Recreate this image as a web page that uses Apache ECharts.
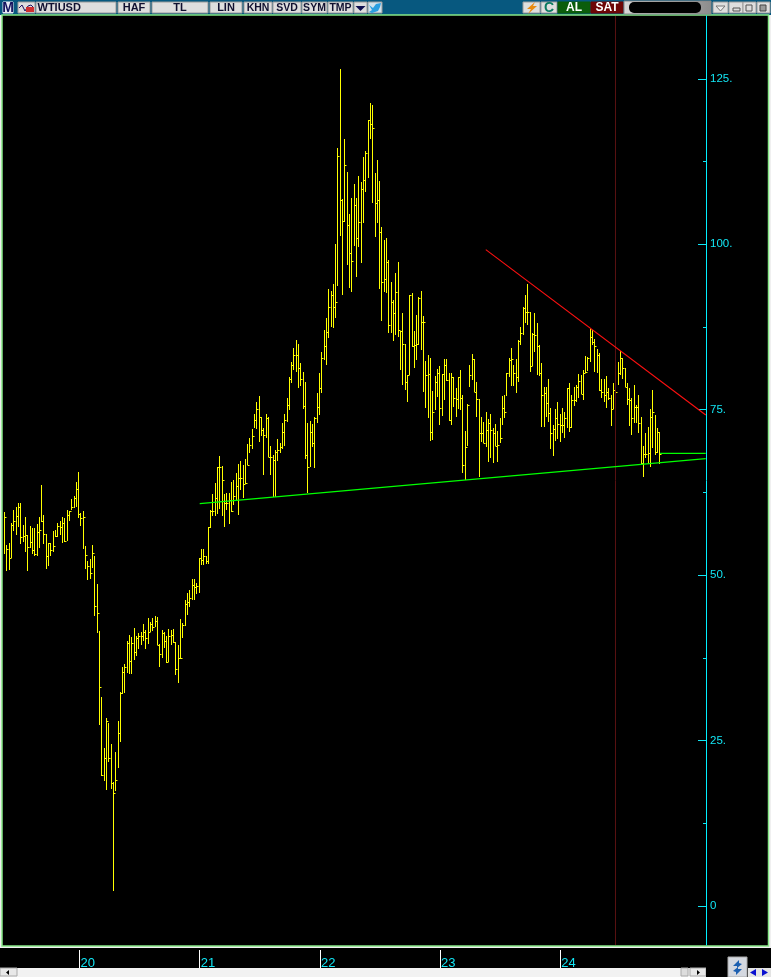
<!DOCTYPE html>
<html><head><meta charset="utf-8"><style>html,body{margin:0;padding:0;background:#f0f0f0;overflow:hidden}#c{width:771px;height:977px}</style>
<script src="https://cdn.jsdelivr.net/npm/echarts@6/dist/echarts.min.js"></script></head><body><div id="c"></div><script>
const symbol="WTIUSD";
const yearTicks=[20,21,22,23,24];
const priceTicks=[0,25,50,75,100,125];
const minorTicks=[12.5,37.5,62.5,87.5,112.5];
const firstBarYear=19.3727, barStepYear=0.01926;
const highs=[59.6,54.6,54.9,57.9,59.9,60.3,60.9,60.9,57.6,58.8,56.1,57.4,57.1,57.1,57.7,58.8,63.6,59.1,56.2,54.9,54.9,56.7,56.8,57.9,58.2,58.8,58.6,59.9,59.7,61.5,62.0,64.1,65.6,59.4,59.7,54.4,52.1,52.4,54.6,52.9,48.7,41.6,31.6,23.9,28.4,27.7,24.5,18.7,23.3,28.0,32.3,36.1,36.6,40.1,41.0,40.7,42.0,40.8,41.3,41.4,42.6,41.7,43.5,42.9,43.5,43.8,43.7,39.6,41.7,41.4,40.8,41.9,41.7,41.9,39.9,39.4,43.4,42.8,46.3,47.3,47.8,49.4,49.4,48.8,52.6,54.0,54.0,52.9,57.3,59.9,62.3,63.9,66.4,68.0,66.5,62.3,62.4,62.4,64.1,64.4,65.4,66.8,67.3,66.7,67.6,69.8,70.7,72.1,74.4,76.2,77.1,73.9,72.2,74.4,73.9,69.5,68.2,68.9,70.6,70.0,73.0,74.4,76.8,80.0,82.2,84.3,85.5,84.9,82.1,80.7,79.2,73.0,73.3,72.9,73.9,77.5,80.6,83.7,87.1,88.9,93.3,93.0,94.0,100.1,114.6,126.5,106.9,115.9,110.9,104.6,107.0,109.1,107.0,110.3,109.4,113.2,114.1,118.8,121.4,121.1,110.8,112.8,109.6,102.6,100.7,101.0,97.6,94.3,91.6,95.7,97.3,86.9,89.6,84.9,80.3,92.4,92.7,86.9,89.3,92.0,93.0,89.2,82.4,83.3,82.8,77.8,80.1,81.2,81.6,80.4,82.7,82.7,80.6,80.6,80.0,78.3,80.0,81.0,77.2,71.8,75.9,81.8,83.4,82.7,79.2,76.6,73.9,73.2,74.7,73.6,74.4,72.2,72.9,71.8,73.8,77.1,77.2,80.6,82.8,84.3,81.8,82.7,85.5,87.5,90.5,92.4,94.0,89.8,86.6,89.6,88.1,84.8,82.1,78.4,78.4,79.7,75.3,72.7,75.1,76.2,74.4,75.3,74.7,78.3,79.1,77.2,78.4,78.8,80.4,80.3,81.0,83.1,83.0,87.2,87.1,85.7,84.2,83.6,79.7,79.7,80.1,78.3,77.2,79.1,81.8,82.2,83.9,82.8,81.3,79.1,78.3,76.8,78.8,75.7,77.2,73.9,69.5,71.5,72.4,75.1,78.0,74.2,72.2,71.6];
const lows=[53.2,50.6,50.8,52.6,56.7,56.1,57.3,54.7,55.0,53.5,50.6,54.1,53.2,52.9,52.9,54.1,58.0,54.7,50.9,51.4,52.9,53.5,55.8,55.8,56.1,54.9,55.0,55.2,58.2,59.9,60.2,60.3,58.6,57.4,54.0,50.9,49.3,49.4,51.1,43.8,41.3,27.4,19.6,18.9,17.5,21.8,17.7,2.3,17.4,20.9,24.8,32.0,32.2,35.2,35.1,35.1,37.2,37.8,38.8,39.4,40.1,38.8,39.6,41.4,41.6,42.2,39.4,36.1,37.5,39.0,36.7,36.9,39.4,39.8,34.9,33.7,37.3,40.5,42.3,44.0,45.2,46.3,46.3,47.2,47.3,51.5,51.5,51.7,51.7,57.1,58.9,58.9,59.3,60.0,58.9,57.3,59.9,57.7,59.6,60.6,61.4,59.1,62.9,61.7,63.8,66.7,68.5,69.1,72.2,72.1,70.1,71.0,65.1,70.7,67.9,65.1,61.8,61.8,67.3,68.5,69.1,69.5,73.2,75.0,79.1,81.0,80.7,78.3,78.6,75.1,67.6,62.4,66.4,69.4,66.2,73.0,74.2,77.5,82.5,81.8,85.9,87.5,87.4,88.9,93.7,101.3,92.4,103.4,96.9,93.4,92.8,99.8,95.1,99.6,97.2,103.2,107.9,110.0,115.9,106.3,101.1,103.2,93.3,88.4,92.8,92.7,86.6,86.6,85.4,86.3,86.0,81.0,78.7,78.0,76.2,80.3,84.5,81.3,82.5,84.8,84.0,77.7,75.3,73.8,70.3,70.4,75.0,76.9,72.7,74.1,76.5,79.4,73.3,72.7,75.4,73.9,75.1,75.0,65.4,64.4,69.5,78.4,79.5,77.7,73.9,64.8,70.1,70.0,69.4,67.1,67.7,67.0,69.5,67.1,70.0,72.7,73.8,77.1,80.0,78.6,78.6,77.5,79.2,84.8,86.3,88.1,87.8,80.7,81.6,83.7,80.3,80.1,72.4,72.4,73.9,73.2,69.1,68.0,70.3,70.6,70.1,71.5,70.7,72.2,71.6,72.2,75.6,76.2,76.8,77.4,76.5,80.6,80.9,82.2,84.8,80.7,80.6,77.8,76.8,76.2,75.3,76.5,72.6,75.1,77.5,78.8,80.3,79.7,78.4,75.7,72.6,71.2,73.0,73.0,71.5,66.8,64.8,67.7,66.8,66.4,69.2,68.2,68.5,66.8];
const closes=[58.8,54.0,52.6,57.6,58.2,58.9,60.3,55.8,55.9,56.1,54.3,55.0,53.8,53.2,56.5,56.8,58.2,56.2,52.9,54.9,53.8,54.4,55.9,57.4,57.3,57.9,55.2,59.1,59.7,60.3,61.7,63.0,59.3,58.6,58.8,53.1,51.4,50.3,53.4,45.3,44.3,33.1,19.8,22.4,28.0,22.4,18.6,17.1,19.0,26.1,32.2,35.4,36.1,39.8,37.0,39.8,38.4,40.5,40.8,40.8,41.4,40.5,41.4,42.6,42.2,43.1,39.4,38.1,41.3,40.1,36.9,40.8,41.0,39.9,35.8,37.5,37.5,42.5,45.6,45.9,46.6,48.5,48.2,48.4,52.6,52.3,52.9,52.1,57.3,59.7,59.7,61.7,66.4,66.4,64.4,60.9,60.9,61.4,59.7,62.0,63.5,64.7,64.7,63.8,63.9,66.7,69.7,71.0,73.5,75.1,73.9,71.9,71.2,73.8,67.9,67.9,67.4,68.6,68.9,69.4,71.6,73.5,75.7,79.7,81.8,83.3,83.3,81.3,79.7,75.6,68.2,66.4,71.6,70.0,73.8,75.4,78.3,82.8,84.6,86.8,90.5,92.4,90.5,91.3,113.4,106.7,103.5,112.0,102.9,98.7,97.5,106.0,101.0,103.4,108.4,109.7,113.8,118.8,118.2,117.6,106.3,106.7,101.9,94.3,94.8,97.3,87.8,91.3,89.6,92.8,87.1,86.9,84.9,79.2,80.3,92.4,84.6,84.8,84.9,91.9,88.3,88.3,80.3,80.4,71.6,74.7,79.2,80.6,75.3,80.4,81.8,79.5,73.5,80.0,76.8,76.6,80.0,76.8,66.7,69.4,75.7,80.3,82.7,77.7,76.6,71.5,71.5,70.0,71.9,73.0,71.9,71.5,69.5,69.7,70.7,75.3,74.7,80.6,82.5,82.7,80.6,80.0,85.4,86.6,90.4,89.8,89.8,81.6,86.5,86.3,84.6,80.6,77.2,77.5,76.0,74.5,71.5,72.1,73.8,72.9,72.7,72.7,73.8,78.3,72.4,76.5,76.5,78.4,79.4,77.4,80.6,80.7,82.8,86.0,85.2,84.6,83.3,78.0,77.7,77.2,77.7,76.8,75.1,78.0,77.7,80.6,82.8,81.3,78.4,76.6,76.5,73.8,75.4,75.4,73.0,67.0,68.3,68.3,68.5,73.9,74.7,68.6,71.6,68.3];
const resistanceYears=[23.38,25.21], resistancePrices=[99.2,74.2];
const supportYears=[21.0,25.21], supportPrices=[60.8,67.6];
const stopYears=[24.83,25.21], stopPrices=[68.4,68.4];
const cursorYear=24.459;

const xMin=19.3636,xMax=25.2121,yMin=-5.9,yMax=134.5;
const bars=highs.map((h,i)=>[firstBarYear+i*barStepYear,h,lows[i],closes[i]]);
const CY='#12e6f5';
const btn=(x,w,t,o)=>{o=o||{};const a=[{type:'rect',shape:{x:x,y:2,width:w,height:11},style:{fill:o.fill||'#dedede',stroke:o.stroke||'#9a9a9a',lineWidth:1}}];
 if(t)a.push({type:'text',style:{text:t,x:o.left?x+1.5:x+w/2,y:8,fill:o.color||'#101030',font:'bold '+(o.size||11)+'px "Liberation Sans"',textAlign:o.left?'left':'center',textVerticalAlign:'middle'}});return a;};
const els=[
 {type:'rect',shape:{x:0,y:0,width:771,height:15},style:{fill:'#07587f'}},
 {type:'rect',shape:{x:2,y:15,width:766.5,height:931},style:{fill:'#000',stroke:'#86e886',lineWidth:1.5}},
 {type:'rect',shape:{x:0,y:948,width:771,height:20},style:{fill:'#000'}},
 {type:'rect',shape:{x:0,y:968,width:771,height:9},style:{fill:'#f2f2f2'}},
 ...btn(3,10,'',{fill:'#e8e8f4',stroke:'#e8e8f4'}),
 {type:'text',style:{text:'M',x:8,y:8,fill:'#12125e',font:'bold 14px "Liberation Sans"',textAlign:'center',textVerticalAlign:'middle'}},
 ...btn(18,17,''),
 {type:'polyline',shape:{points:[[19,8],[22,5],[25,11],[28,6],[31,5],[34,8]]},style:{stroke:'#201060',fill:null,lineWidth:1}},
 {type:'rect',shape:{x:26,y:7,width:8,height:5},style:{fill:'#d03030'}},
 ...btn(36,80,symbol,{left:true}),...btn(118,32,'HAF'),...btn(152,56,'TL'),...btn(210,32,'LIN'),
 ...btn(244,28,'KHN',{size:10.5}),...btn(273,28,'SVD',{size:10.5}),...btn(302,25,'SYM',{size:10.5}),...btn(328,25,'TMP',{size:10.5}),...btn(354,13,''),
 {type:'polygon',shape:{points:[[355.5,6],[365.5,6],[360.5,11]]},style:{fill:'#101050'}},
 ...btn(368,14,'',{fill:'#d0e2ec'}),
 {type:'polygon',shape:{points:[[369,5],[373,8],[376,4],[381,3],[380,7],[378,11],[372,13],[369,12],[372,10]]},style:{fill:'#2a9fe0'}},
 ...btn(523,17,''),{type:'polygon',shape:{points:[[535,2],[527,9],[531,9],[528,14],[537,6],[533,6]]},style:{fill:'#e88a10'}},
 ...btn(541,16,'C',{color:'#0a7a60',size:14}),
 ...btn(558,32,'AL',{fill:'#0b5d0b',stroke:'#0b5d0b',color:'#fff',size:12}),
 ...btn(591,32,'SAT',{fill:'#6d0606',stroke:'#6d0606',color:'#fff',size:12}),
 {type:'rect',shape:{x:624,y:1,width:87,height:13},style:{fill:new echarts.graphic.LinearGradient(0,0,1,0,[{offset:0,color:'#d8d8d8'},{offset:1,color:'#8c8c8c'}]),stroke:'#888'}},
 {type:'rect',shape:{x:629,y:2,width:72,height:11,r:5},style:{fill:'#000'}},
 ...btn(713,15,''),{type:'polygon',shape:{points:[[716,6],[725,6],[720.5,11]],},style:{fill:'#eee',stroke:'#777'}},
 ...btn(729,14,''),{type:'rect',shape:{x:733,y:8,width:7,height:3},style:{fill:'#ddd',stroke:'#555'}},
 ...btn(743,13,''),{type:'rect',shape:{x:746,y:5,width:6,height:6},style:{fill:'#ddd',stroke:'#555'}},
 ...btn(757,13,''),{type:'rect',shape:{x:760,y:5,width:6,height:6},style:{fill:'#999',stroke:'#444'}},
 {type:'rect',shape:{x:0,y:968,width:17,height:8},style:{fill:'#e8e8e8',stroke:'#aaa'}},
 {type:'polygon',shape:{points:[[9,970],[9,975],[6,972.5]]},style:{fill:'#000'}},
 {type:'rect',shape:{x:681,y:968,width:7,height:8},style:{fill:'#ddd',stroke:'#aaa'}},
 {type:'rect',shape:{x:690,y:968,width:16,height:8},style:{fill:'#e8e8e8',stroke:'#aaa'}},
 {type:'polygon',shape:{points:[[697,970],[697,975],[700,972.5]]},style:{fill:'#000'}},
 {type:'rect',shape:{x:706,y:968,width:65,height:9},style:{fill:'#000'}},
 {type:'rect',shape:{x:728,y:957,width:19,height:20},style:{fill:'#d4d8e0',stroke:'#aaa'}},
 {type:'polygon',shape:{points:[[739,960],[733,966],[737,966],[737,968],[742,964],[739,963]]},style:{fill:'#1c5fb0'}},
 {type:'polygon',shape:{points:[[736,975],[742,969],[738,969],[738,967],[733,971],[736,972]]},style:{fill:'#1c5fb0'}},
 {type:'rect',shape:{x:748,y:968,width:23,height:9},style:{fill:'#e4e4e4'}},
 {type:'polygon',shape:{points:[[756,969],[756,976],[750,972.5]]},style:{fill:'#0a10d0'}},
 {type:'polygon',shape:{points:[[762,969],[762,976],[768,972.5]]},style:{fill:'#0a10d0'}}
];
const line=(xs,ys,color,w)=>({type:'line',xAxisIndex:0,yAxisIndex:0,data:xs.map((x,i)=>[x,ys[i]]),showSymbol:false,silent:true,animation:false,lineStyle:{color:color,width:w||1},z:4});
const chart=echarts.init(document.getElementById('c'),null,{renderer:'canvas'});
chart.setOption({animation:false,backgroundColor:'#f0f0f0',graphic:{z:-1,elements:els.map(e=>Object.assign({silent:true},e))},
 grid:[{left:3,right:65,top:16,bottom:32},{left:3,right:65,top:948,height:20}],
 xAxis:[{type:'value',gridIndex:0,min:xMin,max:xMax,show:false,splitLine:{show:false}},
  {type:'value',gridIndex:1,min:xMin,max:xMax,position:'bottom',splitLine:{show:false},axisLine:{show:false},
   axisTick:{show:true,inside:true,length:18,lineStyle:{color:'#fff'},customValues:yearTicks},
   axisLabel:{show:true,inside:true,margin:-2,customValues:yearTicks,formatter:v=>String(v),color:CY,fontFamily:'"Liberation Sans"',fontSize:13,align:'left',padding:[0,0,0,1],verticalAlign:'bottom',lineHeight:14}}],
 yAxis:[{type:'value',gridIndex:0,position:'right',min:yMin,max:yMax,splitLine:{show:false},
   axisLine:{show:true,lineStyle:{color:'#00f0ff',width:1}},
   axisTick:{show:true,inside:true,length:8,lineStyle:{color:CY},customValues:priceTicks},
   axisLabel:{show:true,margin:4,customValues:priceTicks,formatter:v=>v===0?'0':v+'.',color:CY,fontFamily:'"Liberation Sans"',fontSize:11.5,padding:[2,0,0,0]}},
  {type:'value',gridIndex:0,position:'right',min:yMin,max:yMax,splitLine:{show:false},axisLine:{show:false},
   axisTick:{show:true,inside:true,length:3,lineStyle:{color:CY},customValues:minorTicks},axisLabel:{show:false}},
  {type:'value',gridIndex:1,min:0,max:1,show:false,splitLine:{show:false}}],
 series:[
  line([cursorYear,cursorYear],[yMin,yMax],'#5a1212'),
  {type:'custom',xAxisIndex:0,yAxisIndex:0,data:bars,encode:{x:0,y:[1,2,3]},silent:true,animation:false,z:3,
   renderItem:(p,api)=>{const x=Math.round(api.coord([api.value(0),0])[0])+0.5;
    const yh=Math.round(api.coord([0,api.value(1)])[1]),yl=Math.round(api.coord([0,api.value(2)])[1]),yc=Math.round(api.coord([0,api.value(3)])[1])+0.5;
    const st={stroke:'#ffff00',lineWidth:1,fill:null};
    return {type:'group',children:[{type:'line',shape:{x1:x,y1:yh,x2:x,y2:yl},style:st},{type:'line',shape:{x1:x,y1:yc,x2:x+2,y2:yc},style:st}]};}},
  line(resistanceYears,resistancePrices,'#ff1010',1.1),
  line(supportYears,supportPrices,'#00ff00',1.2),
  line(stopYears,stopPrices,'#00ff00',1.2)
 ]});
</script></body></html>
